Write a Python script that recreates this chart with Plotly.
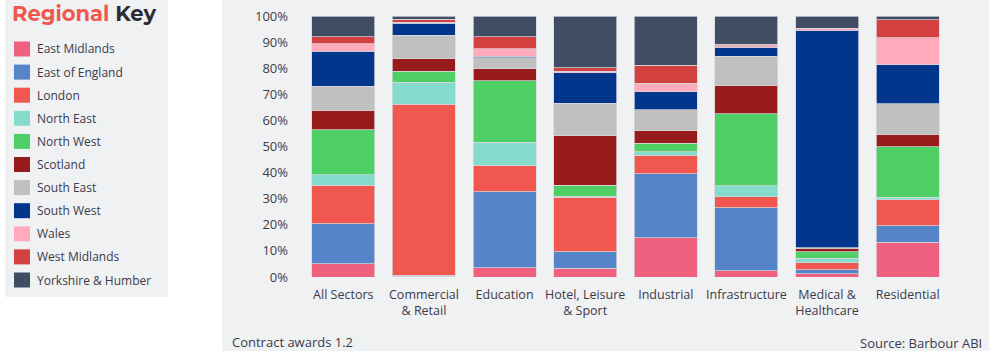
import plotly.graph_objects as go

categories = ["All Sectors", "Commercial<br>& Retail", "Education", "Hotel, Leisure<br>& Sport",
              "Industrial", "Infrastructure", "Medical &<br>Healthcare", "Residential"]

regions = ["East Midlands", "East of England", "London", "North East", "North West", "Scotland",
           "South East", "South West", "Wales", "West Midlands", "Yorkshire & Humber"]

colors = ["#f0607f", "#5584c8", "#f0574e", "#85dccd", "#4fd067", "#981b1b",
          "#c0c0c0", "#01368c", "#ffabbb", "#d34040", "#404e63"]

# share (%) per region, order of categories above
east_midlands = [5.1, 0.3, 3.6, 3.4, 15.1, 2.4, 1.2, 13.3]
east_of_england = [15.3, 0.3, 29.1, 6.3, 24.5, 24.1, 1.5, 6.4]
london = [14.8, 65.6, 9.9, 20.9, 7.0, 4.3, 2.8, 9.9]
north_east = [4.0, 8.4, 9.1, 0.4, 1.3, 4.1, 1.7, 0.9]
north_west = [17.3, 4.3, 23.6, 4.2, 3.4, 27.6, 2.5, 19.4]
scotland = [7.3, 4.8, 4.6, 18.9, 4.8, 11.0, 1.3, 4.7]
south_east = [9.2, 8.9, 4.1, 12.5, 7.9, 11.0, 0.3, 11.7]
south_west = [13.5, 4.6, 0.7, 11.6, 6.9, 3.6, 83.3, 14.9]
wales = [2.8, 0.4, 2.8, 0.6, 3.3, 0.5, 0.6, 10.3]
west_midlands = [2.7, 1.1, 4.6, 1.4, 7.0, 0.6, 0.1, 6.9]
yorkshire_humber = [8.0, 1.3, 8.0, 19.8, 18.8, 10.8, 4.7, 1.5]

series = [east_midlands, east_of_england, london, north_east, north_west, scotland,
          south_east, south_west, wales, west_midlands, yorkshire_humber]

yticks = [0, 10, 20, 30, 40, 50, 60, 70, 80, 90, 100]

FONT = "Open Sans"
TXT = "#3b3b4a"
PANEL = "#f0f1f3"

fig = go.Figure()
for name, vals, col in zip(regions, series, colors):
    fig.add_trace(go.Bar(
        x=categories, y=vals, name=name,
        marker=dict(color=col, line=dict(color="rgba(215,215,220,0.9)", width=0.8)),
        showlegend=False,
        hovertemplate="%{x}<br>" + name + ": %{y:.1f}%<extra></extra>",
    ))

W, H = 989, 351
ml, mr, mt, mb = 303, 41, 16, 74
pw, ph = W - ml - mr, H - mt - mb


def px_x(x):
    return (x - ml) / pw


def px_y(y):
    return (H - mb - y) / ph


shapes = []
shapes.append(dict(type="rect", xref="paper", yref="paper",
                   x0=px_x(222), x1=px_x(989), y0=px_y(351), y1=px_y(0),
                   line=dict(width=0), fillcolor=PANEL, layer="below"))
shapes.append(dict(type="rect", xref="paper", yref="paper",
                   x0=px_x(5), x1=px_x(168), y0=px_y(297), y1=px_y(0),
                   line=dict(width=0), fillcolor=PANEL, layer="below"))

annotations = []
# legend key
y0 = 49
step = 23.1
for i, (name, col) in enumerate(zip(regions, colors)):
    yc = y0 + i * step
    shapes.append(dict(type="rect", xref="paper", yref="paper",
                       x0=px_x(14), x1=px_x(30), y0=px_y(yc + 7.5), y1=px_y(yc - 7.5),
                       line=dict(width=0), fillcolor=col, layer="above"))
    annotations.append(dict(xref="paper", yref="paper", x=px_x(35), y=px_y(yc),
                            xanchor="left", yanchor="middle", showarrow=False,
                            text=name, font=dict(family=FONT, size=12, color=TXT)))

annotations.append(dict(xref="paper", yref="paper", x=px_x(10), y=px_y(14),
                        xanchor="left", yanchor="middle", showarrow=False,
                        text="<b><span style='color:#f0574e'>Regional</span> Key</b>",
                        font=dict(family="Montserrat, " + FONT, size=21, color="#2b2b33")))
annotations.append(dict(xref="paper", yref="paper", x=px_x(230), y=px_y(342),
                        xanchor="left", yanchor="middle", showarrow=False,
                        text="Contract awards 1.2",
                        font=dict(family=FONT, size=13, color=TXT)))
annotations.append(dict(xref="paper", yref="paper", x=px_x(984), y=px_y(343),
                        xanchor="right", yanchor="middle", showarrow=False,
                        text="Source: Barbour ABI",
                        font=dict(family=FONT, size=13, color=TXT)))

fig.update_layout(
    width=W, height=H,
    margin=dict(l=ml, r=mr, t=mt, b=mb, pad=0, autoexpand=False),
    barmode="stack", barnorm="percent", bargap=0.22,
    paper_bgcolor="white", plot_bgcolor="rgba(0,0,0,0)",
    font=dict(family=FONT, size=12, color=TXT),
    shapes=shapes, annotations=annotations,
    showlegend=False,
    xaxis=dict(showgrid=False, zeroline=False, showline=False, ticks="", automargin=False,
               ticklabelstandoff=8,
               tickfont=dict(family=FONT, size=12.5, color=TXT)),
    yaxis=dict(range=[0, 100], tickvals=yticks, ticktext=[f"{v}%" for v in yticks],
               showgrid=False, zeroline=False, showline=False, ticks="", automargin=False,
               ticklabelstandoff=14,
               tickfont=dict(family=FONT, size=13, color=TXT)),
)

fig.write_html("out.html")
